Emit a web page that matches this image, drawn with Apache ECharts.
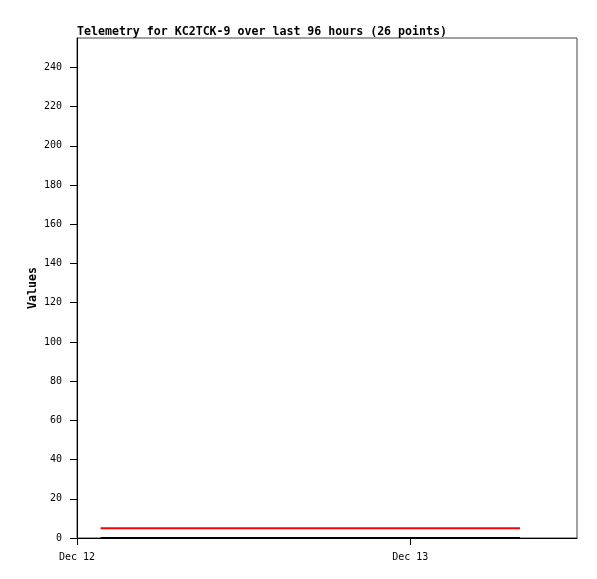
<!DOCTYPE html>
<html>
<head>
<meta charset="utf-8">
<script src="https://cdn.jsdelivr.net/npm/echarts@6/dist/echarts.min.js"></script>
<style>html,body{margin:0;padding:0;background:#fff}#c{width:597px;height:579px}</style>
</head>
<body>
<div id="c"></div>
<script>
var titleText = 'Telemetry for KC2TCK-9 over last 96 hours (26 points)';
var yName = 'Values';
var yMin = 0, yMax = 255, yStep = 20;
var yTicks = [0, 20, 40, 60, 80, 100, 120, 140, 160, 180, 200, 220, 240];
var DAY = 86400000;
var xStart = Date.UTC(2023, 11, 12);          // Dec 12 00:00
var xEnd = xStart + 1.5 * DAY;               // Dec 13 12:00
var xTicks = [xStart, xStart + DAY];         // Dec 12, Dec 13
var monthNames = ['Jan','Feb','Mar','Apr','May','Jun','Jul','Aug','Sep','Oct','Nov','Dec'];
// hours after Dec 12 00:00 of each of the 26 points
var pointHours = [1.7, 2.9, 4.1, 5.3, 6.5, 7.6, 8.8, 10.0, 11.2, 12.4, 13.6, 14.8, 16.0,
                  17.2, 18.4, 19.6, 20.8, 22.0, 23.2, 24.4, 25.6, 26.8, 28.0, 29.2, 30.4, 31.9];
var redValues = [5,5,5,5,5,5,5,5,5,5,5,5,5,5,5,5,5,5,5,5,5,5,5,5,5,5];
var blackValues = [0,0,0,0,0,0,0,0,0,0,0,0,0,0,0,0,0,0,0,0,0,0,0,0,0,0];

function pairs(vals) {
  return pointHours.map(function (h, i) { return [xStart + h * 3600000, vals[i]]; });
}
var mono = '"DejaVu Sans Mono", "Liberation Mono", monospace';
var chart = echarts.init(document.getElementById('c'), null, {renderer: 'canvas'});
chart.setOption({
  animation: false,
  backgroundColor: '#ffffff',
  title: {
    text: titleText, left: 72, top: 21,
    textStyle: {fontFamily: mono, fontSize: 11.6, fontWeight: 'bold', color: '#000'}
  },
  grid: {left: 77, right: 20, top: 38, bottom: 41, show: true, borderColor: '#444', borderWidth: 1, backgroundColor: '#fff'},
  graphic: [{
    type: 'text', x: 33, y: 288, rotation: Math.PI / 2,
    style: {text: yName, align: 'center', verticalAlign: 'middle', fill: '#000',
            font: 'bold 11.6px "DejaVu Sans Mono", monospace'}
  }],
  xAxis: {
    type: 'value', min: xStart, max: xEnd, interval: DAY,
    axisLine: {show: true, lineStyle: {color: '#000', width: 1}},
    axisTick: {show: true, length: 7, customValues: xTicks, lineStyle: {color: '#000'}},
    splitLine: {show: false},
    axisLabel: {
      margin: 14, fontFamily: mono, fontSize: 10, color: '#000', customValues: xTicks,
      formatter: function (v) { var d = new Date(v); return monthNames[d.getUTCMonth()] + ' ' + d.getUTCDate(); }
    }
  },
  yAxis: {
    type: 'value', min: yMin, max: yMax, interval: yStep,
    axisLine: {show: true, lineStyle: {color: '#000', width: 1}},
    axisTick: {show: true, length: 7, customValues: yTicks, lineStyle: {color: '#000'}},
    splitLine: {show: false},
    axisLabel: {margin: 15, fontFamily: mono, fontSize: 10, color: '#000', customValues: yTicks}
  },
  series: [
    {type: 'line', data: pairs(blackValues), showSymbol: false, symbol: 'none', lineStyle: {color: '#000', width: 2}, z: 3},
    {type: 'line', data: pairs(redValues), showSymbol: false, symbol: 'none', lineStyle: {color: '#ff0000', width: 2}, z: 4}
  ]
});
</script>
</body>
</html>
